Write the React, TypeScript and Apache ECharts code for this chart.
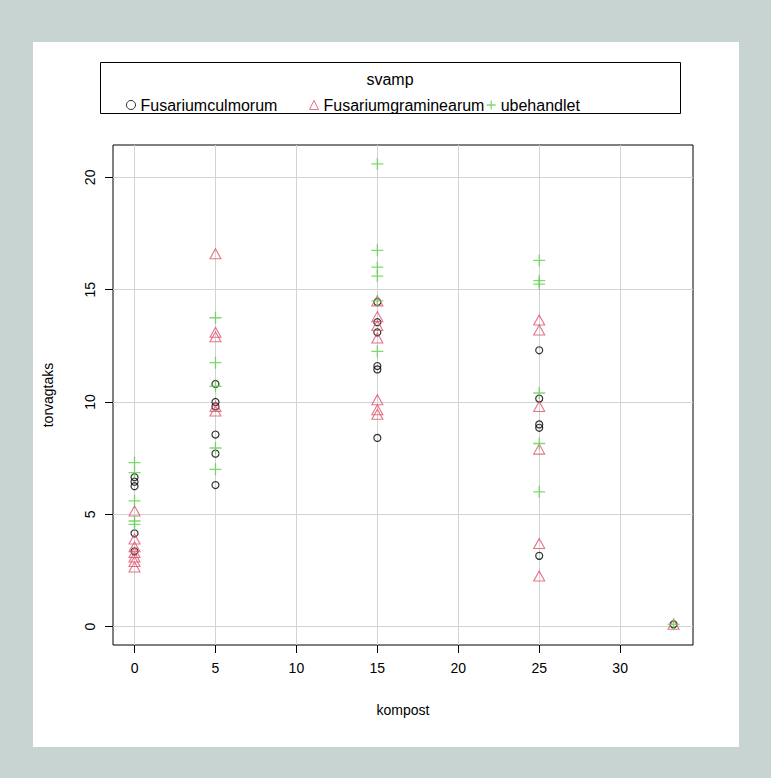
import React, { useEffect, useRef } from "react";
import * as echarts from "echarts";

const xTicks = [0, 5, 10, 15, 20, 25, 30];
const yTicks = [0, 5, 10, 15, 20];

const seriesNames = ["Fusariumculmorum", "Fusariumgraminearum", "ubehandlet"];
const seriesColors = ["#000000", "#DF536B", "#61D04F"];

const culmorumX = [0, 0, 0, 0, 0, 5, 5, 5, 5, 5, 5, 15, 15, 15, 15, 15, 15, 25, 25, 25, 25, 25, 33.3];
const culmorumY = [6.65, 6.45, 6.25, 4.15, 3.35, 10.8, 10.0, 9.8, 8.55, 7.7, 6.3, 14.45, 13.55, 13.1, 11.6, 11.45, 8.4, 12.3, 10.15, 9.0, 8.85, 3.15, 0.1];

const graminearumX = [0, 0, 0, 0, 0, 0, 0, 5, 5, 5, 5, 5, 15, 15, 15, 15, 15, 15, 15, 25, 25, 25, 25, 25, 25, 33.3];
const graminearumY = [5.15, 3.9, 3.55, 3.3, 3.1, 2.9, 2.65, 16.6, 13.1, 12.9, 9.8, 9.6, 14.5, 13.8, 13.4, 12.85, 10.1, 9.65, 9.45, 13.65, 13.2, 9.8, 7.9, 3.7, 2.25, 0.1];

const ubehandletX = [0, 0, 0, 0, 0, 5, 5, 5, 5, 5, 15, 15, 15, 15, 15, 15, 25, 25, 25, 25, 25, 25, 33.3];
const ubehandletY = [7.3, 6.85, 5.6, 4.7, 4.55, 13.75, 11.75, 10.7, 7.95, 7.0, 20.6, 16.75, 16.0, 15.6, 14.5, 12.25, 16.3, 15.4, 15.25, 10.4, 8.15, 6.0, 0.1];

const FONT = "'Liberation Sans', Arial, sans-serif";
const FS = 14;
const LFS = 16;
const PLUS = "path://M5,0L5,10M0,5L10,5";
const legendLefts = [121, 304, 481];
const legendIcons = ["circle", "triangle", PLUS];

function pairs(xs: number[], ys: number[]) {
  return xs.map((x, i) => [x, ys[i]]);
}

export default function App() {
  const ref = useRef<HTMLDivElement>(null);
  useEffect(() => {
    if (!ref.current) return;
    const chart = echarts.init(ref.current, null, { renderer: "svg" });
    const transparent = "rgba(0,0,0,0)";
    chart.setOption({
      animation: false,
      backgroundColor: "transparent",
      textStyle: { fontFamily: FONT },
      grid: {
        left: 113,
        top: 145,
        width: 580,
        height: 500,
        show: true,
        borderColor: "#000",
        borderWidth: 1,
        backgroundColor: "transparent",
      },
      legend: seriesNames.map((name, i) => ({
        left: legendLefts[i],
        top: 92,
        orient: "horizontal",
        itemWidth: 9,
        itemHeight: 9,
        itemGap: 0,
        selectedMode: false,
        textStyle: { fontFamily: FONT, fontSize: LFS, color: "#000" },
        data: [
          {
            name,
            icon: legendIcons[i],
            itemStyle: { color: transparent, borderColor: seriesColors[i], borderWidth: i === 2 ? 1.3 : 1 },
          },
        ],
      })),
      graphic: [
        {
          type: "rect",
          shape: { x: 100.5, y: 62.5, width: 580, height: 51 },
          style: { fill: "transparent", stroke: "#000", lineWidth: 1 },
          z: 10,
        },
        {
          type: "text",
          x: 390,
          y: 79,
          style: { text: "svamp", fontFamily: FONT, fontSize: LFS, fill: "#000", align: "center", verticalAlign: "middle" },
          z: 10,
        },
      ],
      xAxis: {
        type: "value",
        min: -1.33,
        max: 34.5,
        name: "kompost",
        nameLocation: "middle",
        nameGap: 58,
        nameTextStyle: { fontFamily: FONT, fontSize: FS, color: "#000" },
        axisLine: { show: false, onZero: false },
        axisTick: { show: true, length: 8, customValues: xTicks, lineStyle: { color: "#000", width: 1 } },
        axisLabel: { customValues: xTicks, margin: 16, fontFamily: FONT, fontSize: FS, color: "#000" },
        splitLine: { show: true, lineStyle: { color: "#d3d3d3", width: 1 } },
      },
      yAxis: {
        type: "value",
        min: -0.82,
        max: 21.44,
        name: "torvagtaks",
        nameLocation: "middle",
        nameGap: 58,
        nameTextStyle: { fontFamily: FONT, fontSize: FS, color: "#000" },
        axisLine: { show: false, onZero: false },
        axisTick: { show: true, length: 8, customValues: yTicks, lineStyle: { color: "#000", width: 1 } },
        axisLabel: { customValues: yTicks, margin: 16, rotate: 90, fontFamily: FONT, fontSize: FS, color: "#000" },
        splitLine: { show: true, lineStyle: { color: "#d3d3d3", width: 1 } },
      },
      series: [
        {
          name: seriesNames[0],
          type: "scatter",
          symbol: "circle",
          symbolSize: 7,
          itemStyle: { color: transparent, borderColor: seriesColors[0], borderWidth: 1.2 },
          data: pairs(culmorumX, culmorumY),
        },
        {
          name: seriesNames[1],
          type: "scatter",
          symbol: "triangle",
          symbolSize: [11, 10],
          itemStyle: { color: transparent, borderColor: seriesColors[1], borderWidth: 1.1 },
          data: pairs(graminearumX, graminearumY),
        },
        {
          name: seriesNames[2],
          type: "scatter",
          symbol: PLUS,
          symbolSize: 12,
          itemStyle: { color: transparent, borderColor: seriesColors[2], borderWidth: 1.3 },
          data: pairs(ubehandletX, ubehandletY),
        },
      ],
    });
    return () => chart.dispose();
  }, []);

  return (
    <div style={{ position: "absolute", left: 0, top: 0, width: 771, height: 778, background: "#c8d4d1" }}>
      <div style={{ position: "absolute", left: 33, top: 42, width: 706, height: 705, background: "#ffffff" }} />
      <div ref={ref} style={{ position: "absolute", left: 0, top: 0, width: 771, height: 778 }} />
    </div>
  );
}
